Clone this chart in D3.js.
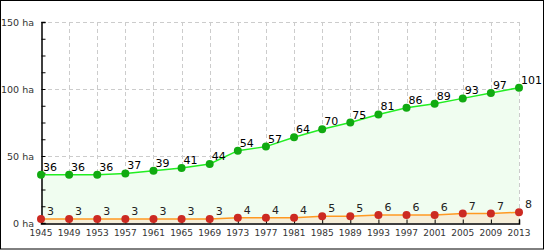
<!DOCTYPE html>
<html>
<head>
<meta charset="utf-8">
<script src="https://cdn.jsdelivr.net/npm/d3@7"></script>
<style>
  body { margin: 0; background: #fff; }
  svg { display: block; }
</style>
</head>
<body>
<div id="chart"></div>
<script>
var years = [1945, 1949, 1953, 1957, 1961, 1965, 1969, 1973, 1977, 1981, 1985, 1989, 1993, 1997, 2001, 2005, 2009, 2013];
var greenValues = [36, 36, 36, 37, 39, 41, 44, 54, 57, 64, 70, 75, 81, 86, 89, 93, 97, 101];
var redValues = [3, 3, 3, 3, 3, 3, 3, 4, 4, 4, 5, 5, 6, 6, 6, 7, 7, 8];
var yTicks = [0, 50, 100, 150];

var width = 545,
  height = 250,
  padLeft = 41,
  padRight = 519,
  padTop = 22,
  padBottom = 223;

var svg = d3.select('#chart').append('svg')
  .attr('width', width)
  .attr('height', height);

svg.append('rect')
  .attr('x', 0.5).attr('y', 0.5)
  .attr('width', width - 2).attr('height', height - 1.5)
  .attr('fill', '#fff')
  .attr('stroke', '#000');

var x = d3.scaleLinear().domain([1945, 2013]).range([padLeft, padRight]);
var y = d3.scaleLinear().domain([0, 150]).range([padBottom, padTop]);

// grid
svg.append('g').selectAll('line')
  .data(years.slice(1))
  .enter().append('line')
  .attr('x1', function (d) { return Math.round(x(d)) + 0.5; })
  .attr('x2', function (d) { return Math.round(x(d)) + 0.5; })
  .attr('y1', padTop).attr('y2', padBottom)
  .attr('stroke', '#ccc')
  .attr('stroke-dasharray', '4,3');

svg.append('g').selectAll('line')
  .data(yTicks.slice(1))
  .enter().append('line')
  .attr('x1', padLeft).attr('x2', padRight)
  .attr('y1', function (d) { return Math.round(y(d)) + 0.5; })
  .attr('y2', function (d) { return Math.round(y(d)) + 0.5; })
  .attr('stroke', '#ccc')
  .attr('stroke-dasharray', '4,3');

var data = years.map(function (yr, i) {
  return { year: yr, g: greenValues[i], r: redValues[i] };
});

// areas
var greenArea = d3.area()
  .x(function (d) { return x(d.year); })
  .y0(y(0))
  .y1(function (d) { return y(d.g); });
var redArea = d3.area()
  .x(function (d) { return x(d.year); })
  .y0(y(0))
  .y1(function (d) { return y(d.r); });

svg.append('path').datum(data).attr('d', greenArea).attr('fill', '#f0fdf0');
svg.append('path').datum(data).attr('d', redArea).attr('fill', '#f5eed8');

// lines
var greenLine = d3.line()
  .x(function (d) { return x(d.year); })
  .y(function (d) { return y(d.g); });
var redLine = d3.line()
  .x(function (d) { return x(d.year); })
  .y(function (d) { return y(d.r); });

svg.append('path').datum(data).attr('d', greenLine)
  .attr('fill', 'none').attr('stroke', '#22ee22').attr('stroke-width', 1.5);
svg.append('path').datum(data).attr('d', redLine)
  .attr('fill', 'none').attr('stroke', '#ff9922').attr('stroke-width', 1.5);

// axes
var yAxis = d3.axisLeft(y)
  .tickValues(d3.range(0, 151, 12.5))
  .tickSize(-4)
  .tickFormat('');
var yAxisG = svg.append('g')
  .attr('transform', 'translate(' + (padLeft + 0.5) + ',0)')
  .call(yAxis);
yAxisG.select('.domain').attr('stroke', '#000').attr('stroke-width', 1.5);
yAxisG.selectAll('.tick line').attr('stroke', '#000');

svg.append('g').selectAll('text')
  .data(yTicks)
  .enter().append('text')
  .attr('x', 34)
  .attr('y', function (d) { return y(d) + 4; })
  .attr('text-anchor', 'end')
  .attr('font-family', 'DejaVu Sans, sans-serif')
  .attr('font-size', 9.5)
  .attr('fill', '#333')
  .text(function (d) { return d + ' ha'; });

var xAxis = d3.axisBottom(x)
  .tickValues(years)
  .tickSize(-4)
  .tickFormat('');
var xAxisG = svg.append('g')
  .attr('transform', 'translate(0,' + (padBottom + 0.5) + ')')
  .call(xAxis);
xAxisG.select('.domain').attr('stroke', '#000').attr('stroke-width', 1.5);
xAxisG.selectAll('.tick line').attr('stroke', '#000');

svg.append('g').selectAll('text')
  .data(years)
  .enter().append('text')
  .attr('x', function (d) { return x(d); })
  .attr('y', 236)
  .attr('text-anchor', 'middle')
  .attr('font-family', 'DejaVu Sans, sans-serif')
  .attr('font-size', 9)
  .attr('fill', '#333')
  .text(function (d) { return d; });

// markers
svg.append('g').selectAll('circle')
  .data(data)
  .enter().append('circle')
  .attr('cx', function (d) { return x(d.year); })
  .attr('cy', function (d) { return y(d.g); })
  .attr('r', 4)
  .attr('fill', '#11aa11');

svg.append('g').selectAll('circle')
  .data(data)
  .enter().append('circle')
  .attr('cx', function (d) { return x(d.year); })
  .attr('cy', function (d) { return y(d.r); })
  .attr('r', 4)
  .attr('fill', '#cc2a22');

// value labels
svg.append('g').selectAll('text')
  .data(data)
  .enter().append('text')
  .attr('x', function (d) { return x(d.year) + 2; })
  .attr('y', function (d) { return y(d.g) - 4; })
  .attr('font-family', 'DejaVu Sans, sans-serif')
  .attr('font-size', 11)
  .attr('fill', '#000')
  .text(function (d) { return d.g; });

svg.append('g').selectAll('text')
  .data(data)
  .enter().append('text')
  .attr('x', function (d) { return x(d.year) + 6; })
  .attr('y', function (d) { return y(d.r) - 4; })
  .attr('font-family', 'DejaVu Sans, sans-serif')
  .attr('font-size', 11)
  .attr('fill', '#222')
  .text(function (d) { return d.r; });
</script>
</body>
</html>
